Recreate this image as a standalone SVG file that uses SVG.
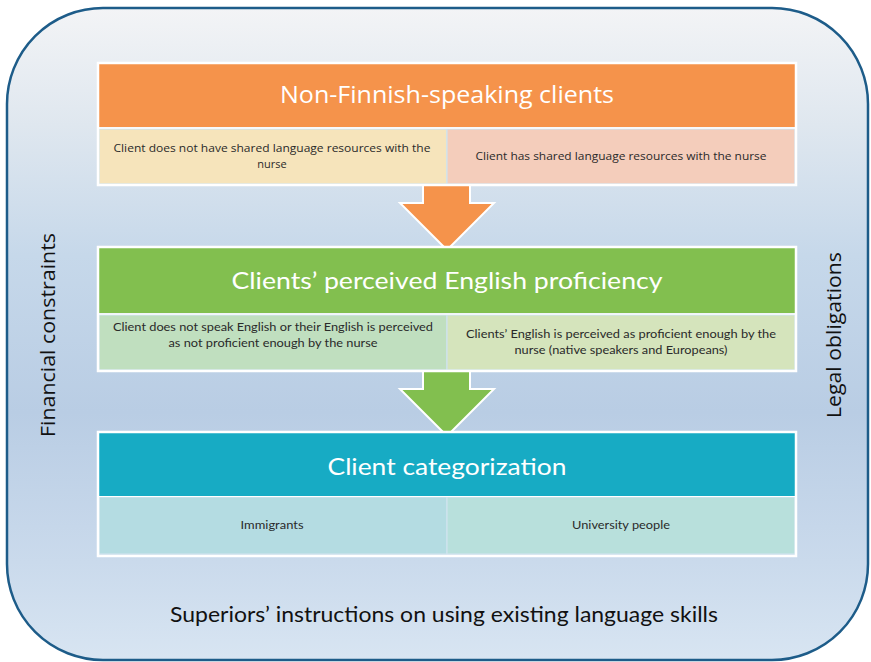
<svg xmlns="http://www.w3.org/2000/svg" width="871" height="662" viewBox="0 0 871 662">
  <defs>
    <linearGradient id="panelFill" x1="0" y1="0" x2="0" y2="1">
      <stop offset="0" stop-color="#f3f4f6"/>
      <stop offset="0.18" stop-color="#dfe7ef"/>
      <stop offset="0.38" stop-color="#c6d8ea"/>
      <stop offset="0.62" stop-color="#b9cde4"/>
      <stop offset="0.85" stop-color="#cadaec"/>
      <stop offset="1" stop-color="#d8e5f2"/>
    </linearGradient>
    <style>
      .frame { fill: url(#panelFill); stroke: #1d5c89; stroke-width: 2.5; }
      .boxEdge { fill: none; stroke: #ffffff; stroke-width: 2.5; }
      .cellEdge { stroke: #cfe3ee; stroke-width: 1.2; }
      .head { font-family: "Open Sans", "Liberation Sans", sans-serif; font-size: 24px; fill: #ffffff; text-anchor: middle; }
      .headN { font-family: Lato, "Liberation Sans", sans-serif; font-size: 24px; fill: #ffffff; text-anchor: middle; }
      .cell { font-family: "Open Sans", "Liberation Sans", sans-serif; font-size: 11px; fill: #2a2a2a; text-anchor: middle; }
      .cellN { font-family: Lato, "Liberation Sans", sans-serif; font-size: 12px; fill: #2a2a2a; text-anchor: middle; }
      .side { font-family: "Open Sans", "Liberation Sans", sans-serif; font-size: 20.5px; fill: #111111; text-anchor: middle; }
      .foot { font-family: Lato, "Liberation Sans", sans-serif; font-size: 22px; fill: #111111; text-anchor: middle; }
      .arrow { stroke: #ffffff; stroke-width: 2; stroke-linejoin: miter; }
    </style>
  </defs>

  <!-- rounded background panel -->
  <rect class="frame" x="7" y="8" width="861" height="652" rx="96" ry="96"/>

  <!-- side and bottom context labels -->
  <text class="side" transform="translate(55,335) rotate(-90)" textLength="204" lengthAdjust="spacingAndGlyphs">Financial constraints</text>
  <text class="side" transform="translate(841,335) rotate(-90)" textLength="166" lengthAdjust="spacingAndGlyphs">Legal obligations</text>
  <text class="foot" x="444" y="622" textLength="548" lengthAdjust="spacingAndGlyphs">Superiors’ instructions on using existing language skills</text>

  <!-- block arrows between stages -->
  <g id="connectors">
    <polygon class="arrow" fill="#f5934b" points="423,185 470,185 470,203 494,203 447,250 400,203 423,203"/>
    <polygon class="arrow" fill="#82bf4f" points="423,371 470,371 470,389 494,389 447,436 400,389 423,389"/>
  </g>

  <!-- stage 1 -->
  <g id="stage-language">
    <rect x="99" y="64" width="696" height="63" fill="#f5934b"/>
    <rect class="cellEdge" x="99" y="129" width="348" height="55" fill="#f6e4bb"/>
    <rect class="cellEdge" x="447" y="129" width="348" height="55" fill="#f4cdbb"/>
    <rect class="boxEdge" x="98" y="63" width="698" height="122"/>
    <line x1="98" y1="128" x2="796" y2="128" stroke="#ffffff" stroke-width="1.5"/>
    <text class="head" x="447" y="103" textLength="334" lengthAdjust="spacingAndGlyphs">Non-Finnish-speaking clients</text>
    <text class="cell" x="272" y="152" textLength="317" lengthAdjust="spacingAndGlyphs">Client does not have shared language resources with the</text>
    <text class="cell" x="272" y="168">nurse</text>
    <text class="cell" x="621" y="160" textLength="291" lengthAdjust="spacingAndGlyphs">Client has shared language resources with the nurse</text>
  </g>

  <!-- stage 2 -->
  <g id="stage-english">
    <rect x="99" y="248" width="696" height="65" fill="#82bf4f"/>
    <rect class="cellEdge" x="99" y="315" width="348" height="55" fill="#c0dfbf"/>
    <rect class="cellEdge" x="447" y="315" width="348" height="55" fill="#d5e4bc"/>
    <rect class="boxEdge" x="98" y="247" width="698" height="124"/>
    <line x1="98" y1="314" x2="796" y2="314" stroke="#ffffff" stroke-width="1.5"/>
    <text class="headN" x="447" y="289" textLength="431" lengthAdjust="spacingAndGlyphs">Clients’ perceived English proficiency</text>
    <text class="cellN" x="273" y="331" textLength="320" lengthAdjust="spacingAndGlyphs">Client does not speak English or their English is perceived</text>
    <text class="cellN" x="273" y="347" textLength="209" lengthAdjust="spacingAndGlyphs">as not proficient enough by the nurse</text>
    <text class="cellN" x="621" y="338" textLength="310" lengthAdjust="spacingAndGlyphs">Clients’ English is perceived as proficient enough by the</text>
    <text class="cellN" x="621" y="354" textLength="213" lengthAdjust="spacingAndGlyphs">nurse (native speakers and Europeans)</text>
  </g>

  <!-- stage 3 -->
  <g id="stage-category">
    <rect x="99" y="433" width="696" height="63" fill="#17abc4"/>
    <rect class="cellEdge" x="99" y="497" width="348" height="57" fill="#b4dce2"/>
    <rect class="cellEdge" x="447" y="497" width="348" height="57" fill="#b8e0dc"/>
    <rect class="boxEdge" x="98" y="432" width="698" height="124"/>
    <line x1="98" y1="496.5" x2="796" y2="496.5" stroke="#ffffff" stroke-width="1.2"/>
    <text class="headN" x="447" y="475" textLength="239" lengthAdjust="spacingAndGlyphs">Client categorization</text>
    <text class="cellN" x="272" y="529" textLength="63" lengthAdjust="spacingAndGlyphs">Immigrants</text>
    <text class="cellN" x="621" y="529" textLength="98" lengthAdjust="spacingAndGlyphs">University people</text>
  </g>
</svg>
